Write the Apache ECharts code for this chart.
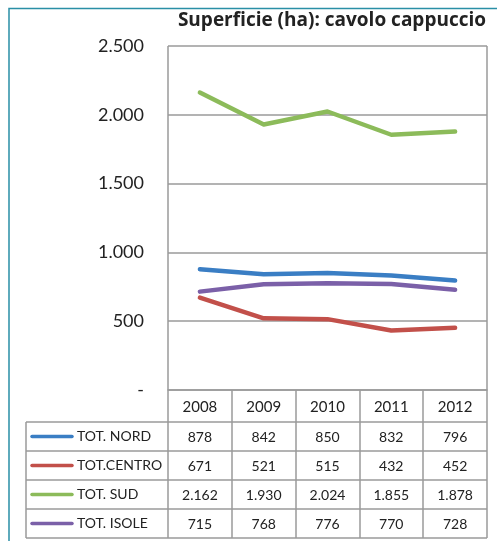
<!DOCTYPE html>
<html>
<head>
<meta charset="utf-8">
<script src="https://cdn.jsdelivr.net/npm/echarts@6/dist/echarts.min.js"></script>
<style>
  html, body { margin: 0; padding: 0; background: #fff; }
  #chart { width: 497px; height: 541px; }
</style>
</head>
<body>
<div id="chart"></div>
<script>
// Superficie coltivata a cavolo cappuccio per ripartizione (ettari)
const years = ['2008', '2009', '2010', '2011', '2012'];
const seriesNames = ['TOT. NORD', 'TOT.CENTRO', 'TOT. SUD', 'TOT. ISOLE'];
const nord = [878, 842, 850, 832, 796];
const centro = [671, 521, 515, 432, 452];
const sud = [2162, 1930, 2024, 1855, 1878];
const isole = [715, 768, 776, 770, 728];
const yTicks = [0, 500, 1000, 1500, 2000, 2500];

const seriesValues = [nord, centro, sud, isole];
const colors = ['#3a7ec4', '#c2504a', '#8cbb5a', '#7b60a8'];

const FONT = 'Lato, "Open Sans", sans-serif';
const TITLE_FONT = '"Open Sans", Lato, sans-serif';
const GRID = { left: 168, right: 10, top: 46, bottom: 151 };
const W = 497, H = 541;
const plotBottom = H - GRID.bottom;
const headerH = 32;
const rowH = 29;
const tableLeft = 26;
const tableRight = W - GRID.right;
const lineGrey = '#9a9a9a';

// Formato italiano: punto come separatore delle migliaia, zero come trattino
function fmt(v) {
  if (v === 0) return '-';
  return String(v).replace(/\B(?=(\d{3})+(?!\d))/g, '.');
}

const chart = echarts.init(document.getElementById('chart'), null, { renderer: 'canvas' });

chart.setOption({
  animation: false,
  backgroundColor: '#fff',
  title: {
    text: 'Superficie (ha): cavolo cappuccio',
    right: 11, top: 11, padding: 0,
    textStyle: { fontFamily: TITLE_FONT, fontWeight: 'bold', fontSize: 19, color: '#222' }
  },
  grid: GRID,
  xAxis: {
    type: 'category',
    data: years,
    boundaryGap: true,
    axisLine: { show: true, lineStyle: { color: lineGrey, width: 1.5 } },
    axisTick: { show: true, length: H - 3 - plotBottom, lineStyle: { color: lineGrey, width: 1.5 } },
    axisLabel: { margin: 10, fontFamily: FONT, fontSize: 15, color: '#222' },
    splitLine: { show: false }
  },
  yAxis: {
    type: 'value',
    min: 0, max: yTicks[yTicks.length - 1], interval: 500,
    axisLine: { show: false },
    axisTick: { show: false },
    axisLabel: { margin: 24, fontFamily: FONT, fontSize: 18, color: '#222', formatter: fmt, padding: [6, 0, 0, 0] },
    splitLine: { show: true, lineStyle: { color: lineGrey, width: 1.5 } }
  },
  series: seriesNames.map((name, i) => ({
    name,
    type: 'line',
    data: seriesValues[i],
    symbol: 'none',
    lineStyle: { color: colors[i], width: 4.5, cap: 'round', join: 'round' },
    z: 3
  }))
});

// Tabella dati sotto il grafico, allineata alle colonne dell'asse delle categorie
function buildTable() {
  const els = [];
  const x0 = GRID.left, x1 = W - GRID.right;
  const y0 = plotBottom;
  // bordi laterali dell'area del grafico
  els.push({ type: 'line', shape: { x1: x0, y1: GRID.top, x2: x0, y2: y0 }, style: { stroke: lineGrey, lineWidth: 1.5 } });
  els.push({ type: 'line', shape: { x1: x1, y1: GRID.top, x2: x1, y2: y0 }, style: { stroke: lineGrey, lineWidth: 1.5 } });
  const firstRowTop = y0 + headerH;
  // linee orizzontali delle righe
  for (let r = 0; r <= seriesNames.length; r++) {
    const y = firstRowTop + r * rowH;
    els.push({ type: 'line', shape: { x1: tableLeft, y1: y, x2: tableRight, y2: y }, style: { stroke: lineGrey, lineWidth: 1.5 } });
  }
  const tableBottom = firstRowTop + seriesNames.length * rowH;
  els.push({ type: 'line', shape: { x1: tableLeft, y1: firstRowTop, x2: tableLeft, y2: tableBottom }, style: { stroke: lineGrey, lineWidth: 1.5 } });

  seriesNames.forEach((name, r) => {
    const cy = firstRowTop + r * rowH + rowH / 2;
    els.push({ type: 'line', shape: { x1: 32, y1: cy, x2: 72, y2: cy }, style: { stroke: colors[r], lineWidth: 3.5, lineCap: 'round' } });
    els.push({ type: 'text', x: 77, y: cy, style: { text: name, fontFamily: FONT, fontSize: 14, fill: '#222', verticalAlign: 'middle', align: 'left' } });
    years.forEach((yr, c) => {
      const px = chart.convertToPixel({ xAxisIndex: 0 }, yr);
      els.push({ type: 'text', x: px, y: cy + 1, style: { text: fmt(seriesValues[r][c]), fontFamily: FONT, fontSize: 14, fill: '#222', verticalAlign: 'middle', align: 'center' } });
    });
  });

  // cornice esterna
  els.push({ type: 'polyline', shape: { points: [[9, H], [9, 8.5], [W, 8.5]] }, style: { stroke: '#2a8fa6', lineWidth: 1.5, fill: null } });
  return els;
}

chart.setOption({ graphic: buildTable() });
</script>
</body>
</html>
